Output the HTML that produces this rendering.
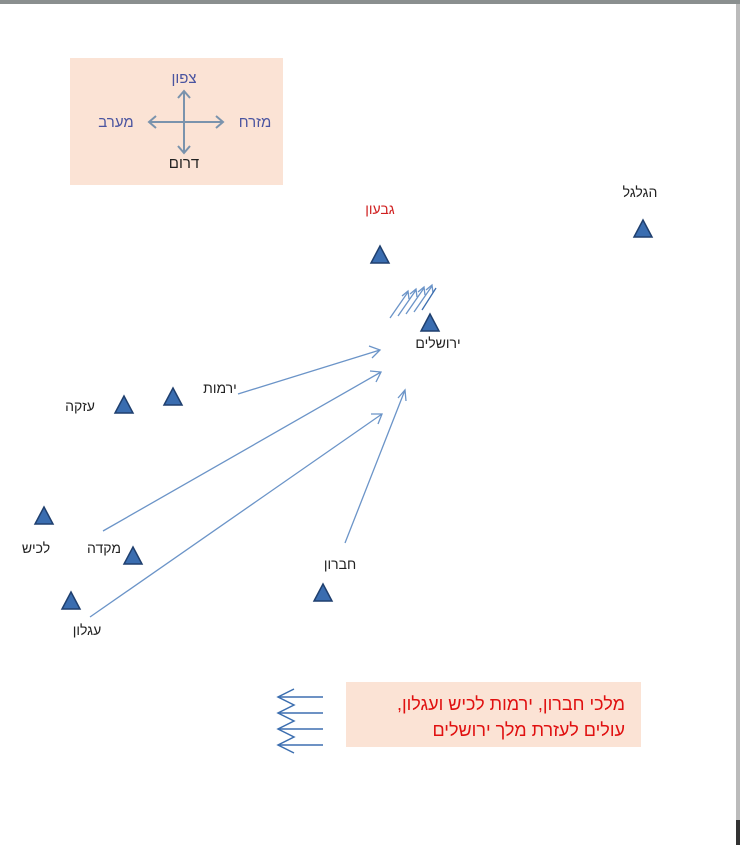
<!DOCTYPE html>
<html><head><meta charset="utf-8"><style>
body{margin:0;background:#fff;width:740px;height:845px;overflow:hidden;font-family:"Liberation Sans","Noto Sans CJK SC",sans-serif}
</style></head><body>
<svg width="740" height="845" xmlns="http://www.w3.org/2000/svg" font-family="Liberation Sans, DejaVu Sans, sans-serif">
<rect x="0" y="0" width="740" height="4" fill="#8a8f8f"/>
<rect x="736" y="4" width="4" height="841" fill="#bbb"/>
<rect x="736" y="820" width="4" height="25" fill="#333"/>
<rect x="70" y="58" width="213" height="127" fill="#fbe3d5"/>
<g stroke="#7a93ad" stroke-width="2" fill="none">
<line x1="184" y1="92" x2="184" y2="152"/><line x1="150" y1="122" x2="222" y2="122"/>
<polyline points="178,98 184,91 190,98"/><polyline points="178,146 184,153 190,146"/>
<polyline points="156,116 149,122 156,128"/><polyline points="216,116 223,122 216,128"/>
</g>
<g font-size="15" text-anchor="middle" direction="rtl">
<text x="184" y="83" fill="#4a54a0">צפון</text>
<text x="184" y="168" fill="#222">דרום</text>
<text x="116" y="127" fill="#4a54a0">מערב</text>
<text x="255" y="127" fill="#4a54a0">מזרח</text>
</g>
<g fill="#3a6db0" stroke="#1f3f6e" stroke-width="1.5">
<polygon points="380,246 371,263 389,263"/>
<polygon points="643,220 634,237 652,237"/>
<polygon points="430,314 421,331 439,331"/>
<polygon points="173,388 164,405 182,405"/>
<polygon points="124,396 115,413 133,413"/>
<polygon points="44,507 35,524 53,524"/>
<polygon points="133,547 124,564 142,564"/>
<polygon points="71,592 62,609 80,609"/>
<polygon points="323,584 314,601 332,601"/>
</g>
<g font-size="14" fill="#222" text-anchor="middle" direction="rtl">
<text x="380" y="214" fill="#d02020">גבעון</text>
<text x="640" y="197">הגלגל</text>
<text x="438" y="348">ירושלים</text>
<text x="220" y="393">ירמות</text>
<text x="80" y="411">עזקה</text>
<text x="36" y="553">לכיש</text>
<text x="104" y="553">מקדה</text>
<text x="87" y="635">עגלון</text>
<text x="340" y="569">חברון</text>
</g>
<g stroke="#6b94c8" stroke-width="1.3" fill="none">
<line x1="238" y1="394" x2="380" y2="350"/><polyline points="369,346 380,350 372,358"/>
<line x1="103" y1="531" x2="381" y2="372"/><polyline points="370,371 381,372 376,382"/>
<line x1="90" y1="617" x2="382" y2="414"/><polyline points="371,414 382,414 378,424"/>
<line x1="345" y1="543" x2="405" y2="390"/><polyline points="398,398 405,390 406,401"/>
</g>
<g stroke="#6b94c8" stroke-width="1.3" fill="none">
<line x1="390" y1="318" x2="408" y2="292"/><polyline points="402,296 408,291 409,299"/>
<line x1="398" y1="316" x2="416" y2="290"/><polyline points="410,294 416,289 417,297"/>
<line x1="406" y1="314" x2="424" y2="288"/><polyline points="418,292 424,287 425,295"/>
<line x1="414" y1="312" x2="432" y2="286"/><polyline points="426,290 432,285 433,293"/>
<line x1="422" y1="310" x2="436" y2="288" stroke="#3d6fb0"/>
</g>
<rect x="346" y="682" width="295" height="65" fill="#fbe3d5"/>
<g font-size="18" fill="#e01010" text-anchor="start" direction="rtl">
<text x="625" y="710">מלכי חברון, ירמות לכיש ועגלון,</text>
<text x="625" y="736">עולים לעזרת מלך ירושלים</text>
</g>
<g stroke="#3d6fb0" stroke-width="1.5" fill="none">
<line x1="278" y1="697" x2="323" y2="697"/><line x1="278" y1="713" x2="323" y2="713"/>
<line x1="278" y1="729" x2="323" y2="729"/><line x1="278" y1="745" x2="323" y2="745"/>
<polyline points="294,689 278,697 294,705 278,713 294,721 278,729 294,737 278,745 294,753"/>
</g>
</svg>
</body></html>
